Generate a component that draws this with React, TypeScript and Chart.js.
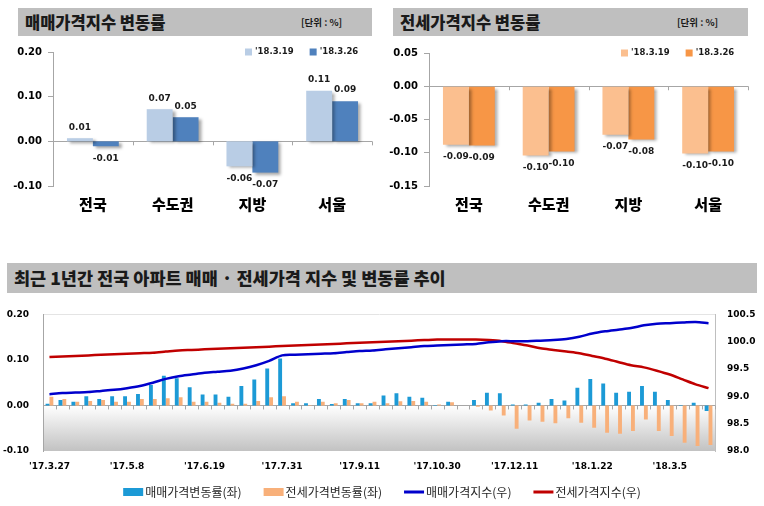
import React, { useEffect, useRef } from 'react';
import { Chart, registerables } from 'chart.js';
Chart.register(...registerables);

const KR = "'Noto Sans CJK KR', 'Noto Sans', sans-serif";
const NUM = "'DejaVu Sans', sans-serif";

// ---- top charts ----
const topCategories = ['전국', '수도권', '지방', '서울'];
const topSeriesLabels = ["'18.3.19", "'18.3.26"];
const saleRate0319 = [0.007, 0.072, -0.056, 0.113];
const saleRate0326 = [-0.011, 0.054, -0.07, 0.09];
const jeonseRate0319 = [-0.088, -0.104, -0.073, -0.101];
const jeonseRate0326 = [-0.089, -0.098, -0.08, -0.098];

// ---- bottom chart ----
const weeks = ["'17.3.27", "'17.4.3", "'17.4.10", "'17.4.17", "'17.4.24", "'17.5.1", "'17.5.8", "'17.5.15", "'17.5.22", "'17.5.29", "'17.6.5", "'17.6.12", "'17.6.19", "'17.6.26", "'17.7.3", "'17.7.10", "'17.7.17", "'17.7.24", "'17.7.31", "'17.8.7", "'17.8.14", "'17.8.21", "'17.8.28", "'17.9.4", "'17.9.11", "'17.9.18", "'17.9.25", "'17.10.9", "'17.10.16", "'17.10.23", "'17.10.30", "'17.11.6", "'17.11.13", "'17.11.20", "'17.11.27", "'17.12.4", "'17.12.11", "'17.12.18", "'17.12.25", "'18.1.1", "'18.1.8", "'18.1.15", "'18.1.22", "'18.1.29", "'18.2.5", "'18.2.12", "'18.2.19", "'18.2.26", "'18.3.5", "'18.3.12", "'18.3.19", "'18.3.26"];
const weeklySaleRate = [0.004, 0.012, 0.008, 0.020, 0.014, 0.020, 0.020, 0.025, 0.045, 0.065, 0.060, 0.040, 0.024, 0.024, 0.019, 0.043, 0.057, 0.081, 0.103, 0.005, 0.005, 0.014, 0.003, 0.014, 0.005, 0.005, 0.022, 0.027, 0.019, 0.017, 0.001, 0.008, 0.000, 0.012, 0.028, 0.027, 0.002, 0.002, 0.006, 0.014, 0.011, 0.039, 0.058, 0.048, 0.028, 0.030, 0.043, 0.030, 0.012, -0.001, 0.006, -0.012];
const weeklyJeonseRate = [0.019, 0.014, 0.008, 0.010, 0.012, 0.008, 0.008, 0.014, 0.014, 0.016, 0.018, 0.008, 0.008, 0.006, 0.004, 0.004, 0.010, 0.018, 0.020, 0.008, 0.001, 0.008, 0.005, 0.012, 0.005, 0.008, 0.005, 0.009, 0.010, 0.008, 0.002, 0.007, 0.000, -0.003, -0.011, -0.022, -0.051, -0.033, -0.036, -0.039, -0.028, -0.038, -0.049, -0.060, -0.062, -0.056, -0.031, -0.056, -0.067, -0.082, -0.089, -0.087];
const saleIndex = [99.04, 99.06, 99.07, 99.08, 99.10, 99.12, 99.15, 99.19, 99.25, 99.32, 99.37, 99.40, 99.43, 99.45, 99.47, 99.51, 99.57, 99.65, 99.75, 99.76, 99.77, 99.78, 99.79, 99.81, 99.83, 99.84, 99.86, 99.88, 99.90, 99.92, 99.93, 99.94, 99.95, 99.96, 99.99, 100.01, 100.01, 100.01, 100.02, 100.03, 100.05, 100.09, 100.15, 100.19, 100.22, 100.25, 100.30, 100.33, 100.34, 100.35, 100.36, 100.34];
const jeonseIndex = [99.72, 99.73, 99.74, 99.75, 99.76, 99.77, 99.78, 99.79, 99.80, 99.82, 99.84, 99.85, 99.86, 99.87, 99.88, 99.89, 99.90, 99.91, 99.92, 99.93, 99.94, 99.95, 99.96, 99.97, 99.98, 99.99, 100.00, 100.01, 100.02, 100.03, 100.04, 100.04, 100.04, 100.04, 100.03, 100.01, 99.97, 99.93, 99.88, 99.85, 99.82, 99.79, 99.74, 99.69, 99.63, 99.57, 99.53, 99.47, 99.40, 99.31, 99.22, 99.15];
const bottomLabels = ['매매가격변동률(좌)', '전세가격변동률(좌)', '매매가격지수(우)', '전세가격지수(우)'];

const isZero = (v: number) => Math.abs(v) < 1e-9;

const shadowPlugin = {
  id: 'barShadow',
  beforeDatasetsDraw(chart: any) {
    const ctx = chart.ctx;
    ctx.save();
    ctx.shadowColor = 'rgba(0,0,0,0.35)';
    ctx.shadowOffsetX = 3;
    ctx.shadowOffsetY = 2;
    ctx.shadowBlur = 3;
  },
  afterDatasetsDraw(chart: any) {
    chart.ctx.restore();
  },
};

const zeroTicksPlugin = {
  id: 'zeroTicks',
  beforeDatasetsDraw(chart: any) {
    const { ctx, chartArea: a } = chart;
    const n = chart.data.labels.length;
    const y0 = chart.scales.y.getPixelForValue(0);
    const step = (a.right - a.left) / n;
    ctx.save();
    ctx.strokeStyle = '#a6a6a6';
    ctx.lineWidth = 1;
    ctx.beginPath();
    for (let k = 1; k <= n; k++) {
      const x = Math.round(a.left + k * step) + 0.5;
      ctx.moveTo(x, y0);
      ctx.lineTo(x, y0 + 4);
    }
    ctx.stroke();
    ctx.restore();
  },
};

const valueLabelPlugin = {
  id: 'valueLabels',
  afterDraw(chart: any) {
    const ctx = chart.ctx;
    ctx.save();
    ctx.font = `bold 9px ${NUM}`;
    ctx.fillStyle = '#1a1a1a';
    ctx.textAlign = 'center';
    ctx.textBaseline = 'middle';
    chart.data.datasets.forEach((ds: any, di: number) => {
      const meta = chart.getDatasetMeta(di);
      meta.data.forEach((el: any, i: number) => {
        const v = ds.data[i];
        const y = v >= 0 ? el.y - 11 : el.y + 12;
        ctx.fillText(v.toFixed(2), el.x, y);
      });
    });
    ctx.restore();
  },
};

const topLegendPlugin = {
  id: 'topLegend',
  afterDraw(chart: any) {
    const { ctx, chartArea: a } = chart;
    ctx.save();
    ctx.font = `bold 8.5px ${NUM}`;
    ctx.textBaseline = 'middle';
    ctx.textAlign = 'left';
    let x = a.left + 192;
    const y = a.top;
    chart.data.datasets.forEach((ds: any) => {
      ctx.fillStyle = ds.backgroundColor;
      ctx.fillRect(x, y - 3.5, 7, 7);
      ctx.fillStyle = '#1a1a1a';
      ctx.fillText(ds.label, x + 10, y);
      x += 10 + ctx.measureText(ds.label).width + 16;
    });
    ctx.restore();
  },
};

function makeTopChart(canvas: HTMLCanvasElement, opts: any) {
  return new Chart(canvas, {
    type: 'bar',
    data: {
      labels: topCategories,
      datasets: [
        { label: topSeriesLabels[0], data: opts.a, backgroundColor: opts.colA, categoryPercentage: 0.65, barPercentage: 1 },
        { label: topSeriesLabels[1], data: opts.b, backgroundColor: opts.colB, categoryPercentage: 0.65, barPercentage: 1 },
      ],
    },
    options: {
      animation: false,
      responsive: false,
      maintainAspectRatio: false,
      layout: { padding: { left: 0, right: opts.padRight, top: opts.padTop, bottom: 0 } },
      plugins: { legend: { display: false }, tooltip: { enabled: false } },
      scales: {
        x: {
          grid: { display: false, drawTicks: false },
          border: { display: false },
          ticks: { font: { family: KR, size: 15, weight: '900' }, color: '#000', padding: 9 },
          afterFit: (s: any) => { s.height = opts.xHeight; },
        },
        y: {
          min: opts.min,
          max: opts.max,
          ticks: {
            stepSize: opts.step,
            callback: (v: any) => Number(v).toFixed(2),
            font: { family: NUM, size: 10, weight: 'bold' },
            color: '#000',
            padding: 6,
          },
          grid: {
            color: (c: any) => (c.tick && isZero(c.tick.value) ? '#a6a6a6' : 'transparent'),
            tickColor: '#a6a6a6',
            tickLength: 5,
          },
          border: { color: '#a6a6a6' },
          afterFit: (s: any) => { s.width = opts.yWidth; },
        },
      },
    } as any,
    plugins: [zeroTicksPlugin, shadowPlugin, valueLabelPlugin, topLegendPlugin],
  });
}

const bottomBgPlugin = {
  id: 'bottomBg',
  beforeDraw(chart: any) {
    const { ctx, chartArea: a } = chart;
    const y0 = chart.scales.y.getPixelForValue(0);
    const g = ctx.createLinearGradient(0, y0, 0, a.bottom);
    g.addColorStop(0, '#ffffff');
    g.addColorStop(1, '#c2c2c2');
    ctx.save();
    ctx.fillStyle = g;
    ctx.fillRect(a.left, y0, a.right - a.left, a.bottom - y0);
    ctx.restore();
  },
};

const bottomLegendPlugin = {
  id: 'bottomLegend',
  afterDraw(chart: any) {
    const ctx = chart.ctx;
    ctx.save();
    ctx.font = `12px ${KR}`;
    ctx.textBaseline = 'middle';
    ctx.textAlign = 'left';
    const items = chart.data.datasets.map((ds: any) => ({
      label: ds.label,
      type: ds.type,
      color: ds.type === 'line' ? ds.borderColor : ds.backgroundColor,
      w: ctx.measureText(ds.label).width,
    }));
    const sw = 20, gap = 2, between = 22;
    const total = items.reduce((s: number, it: any) => s + sw + gap + it.w, 0) + between * (items.length - 1);
    let x = chart.width / 2 - total / 2;
    const y = 197;
    items.forEach((it: any) => {
      ctx.fillStyle = it.color;
      if (it.type === 'line') ctx.fillRect(x, y - 1.5, sw, 3);
      else ctx.fillRect(x, y - 4, sw, 8);
      ctx.fillStyle = '#262626';
      ctx.fillText(it.label, x + sw + gap, y + 0.5);
      x += sw + gap + it.w + between;
    });
    ctx.restore();
  },
};

function makeBottomChart(canvas: HTMLCanvasElement) {
  return new Chart(canvas, {
    type: 'bar',
    data: {
      labels: weeks,
      datasets: [
        { type: 'bar', label: bottomLabels[0], data: weeklySaleRate, backgroundColor: '#1c9ad6', yAxisID: 'y', categoryPercentage: 0.6, barPercentage: 1, order: 2 },
        { type: 'bar', label: bottomLabels[1], data: weeklyJeonseRate, backgroundColor: '#f8b07a', yAxisID: 'y', categoryPercentage: 0.6, barPercentage: 1, order: 2 },
        { type: 'line', label: bottomLabels[2], data: saleIndex, borderColor: '#0000cc', backgroundColor: '#0000cc', borderWidth: 2.5, pointRadius: 0, tension: 0.3, yAxisID: 'y1', order: 1 },
        { type: 'line', label: bottomLabels[3], data: jeonseIndex, borderColor: '#c00000', backgroundColor: '#c00000', borderWidth: 2.5, pointRadius: 0, tension: 0.3, yAxisID: 'y1', order: 1 },
      ],
    } as any,
    options: {
      animation: false,
      responsive: false,
      maintainAspectRatio: false,
      layout: { padding: { left: 0, right: 0, top: 10, bottom: 0 } },
      plugins: { legend: { display: false }, tooltip: { enabled: false } },
      scales: {
        x: {
          grid: { display: false, drawTicks: false },
          border: { display: false },
          ticks: {
            autoSkip: false,
            maxRotation: 0,
            minRotation: 0,
            callback: (_v: any, i: number) => (i % 6 === 0 ? weeks[i] : ''),
            font: { family: NUM, size: 9, weight: 'bold' },
            color: '#000',
            padding: 10,
          },
          afterFit: (s: any) => { s.height = 55; },
        },
        y: {
          position: 'left',
          min: -0.1,
          max: 0.2,
          ticks: {
            stepSize: 0.1,
            callback: (v: any) => Number(v).toFixed(2),
            font: { family: NUM, size: 9, weight: 'bold' },
            color: '#000',
            padding: 14,
          },
          grid: {
            color: (c: any) => (c.tick && isZero(c.tick.value) ? '#a6a6a6' : c.tick && Math.abs(c.tick.value - 0.2) < 1e-9 ? '#e4e4e4' : 'transparent'),
            drawTicks: false,
          },
          border: { color: '#a6a6a6' },
          afterFit: (s: any) => { s.width = 43; },
        },
        y1: {
          position: 'right',
          min: 98,
          max: 100.5,
          ticks: {
            stepSize: 0.5,
            callback: (v: any) => Number(v).toFixed(1),
            font: { family: NUM, size: 9, weight: 'bold' },
            color: '#000',
            padding: 12,
          },
          grid: { drawOnChartArea: false, drawTicks: false },
          border: { color: '#bfbfbf' },
          afterFit: (s: any) => { s.width = 49; },
        },
      },
    } as any,
    plugins: [bottomBgPlugin, zeroTicksPlugin, bottomLegendPlugin],
  });
}

const titleBar = (left: number, top: number, width: number, height: number, text: string, size: number, unit?: string, unitLeft?: number) => (
  <div style={{ position: 'absolute', left, top, width, height, background: '#bfbfbf' }}>
    <div style={{ position: 'absolute', left: 7, top: 0, height, lineHeight: height + 'px', fontFamily: KR, fontWeight: 900, fontSize: size, color: '#1a1a1a', whiteSpace: 'nowrap' }}>{text}</div>
    {unit ? (
      <div style={{ position: 'absolute', left: unitLeft, top: 0, height, lineHeight: height + 'px', fontFamily: KR, fontWeight: 700, fontSize: 9.5, color: '#1a1a1a', whiteSpace: 'nowrap' }}>{unit}</div>
    ) : null}
  </div>
);

export default function App() {
  const leftRef = useRef<HTMLCanvasElement>(null);
  const rightRef = useRef<HTMLCanvasElement>(null);
  const bottomRef = useRef<HTMLCanvasElement>(null);

  useEffect(() => {
    const c1 = makeTopChart(leftRef.current!, {
      a: saleRate0319, b: saleRate0326, colA: '#b9cde5', colB: '#4f81bd',
      min: -0.1, max: 0.2, step: 0.1, padRight: 8, padTop: 12, xHeight: 39, yWidth: 53,
    });
    const c2 = makeTopChart(rightRef.current!, {
      a: jeonseRate0319, b: jeonseRate0326, colA: '#fbbf8f', colB: '#f79646',
      min: -0.15, max: 0.05, step: 0.05, padRight: 16, padTop: 13, xHeight: 39, yWidth: 49,
    });
    const c3 = makeBottomChart(bottomRef.current!);
    return () => { c1.destroy(); c2.destroy(); c3.destroy(); };
  }, []);

  return (
    <div style={{ position: 'fixed', left: 0, top: 0, width: 764, height: 506, background: '#fff', overflow: 'hidden' }}>
      {titleBar(18, 8, 354, 28, '매매가격지수 변동률', 16.5, '[단위 : %]', 283)}
      {titleBar(393, 8, 355, 28, '전세가격지수 변동률', 16.5, '[단위 : %]', 284)}
      {titleBar(7, 263, 750, 30, '최근 1년간 전국 아파트 매매 · 전세가격 지수 및 변동률 추이', 17.5)}
      <canvas ref={leftRef} width={380} height={185} style={{ position: 'absolute', left: 0, top: 40, width: 380, height: 185 }} />
      <canvas ref={rightRef} width={384} height={185} style={{ position: 'absolute', left: 380, top: 40, width: 384, height: 185 }} />
      <canvas ref={bottomRef} width={764} height={211} style={{ position: 'absolute', left: 0, top: 295, width: 764, height: 211 }} />
    </div>
  );
}
